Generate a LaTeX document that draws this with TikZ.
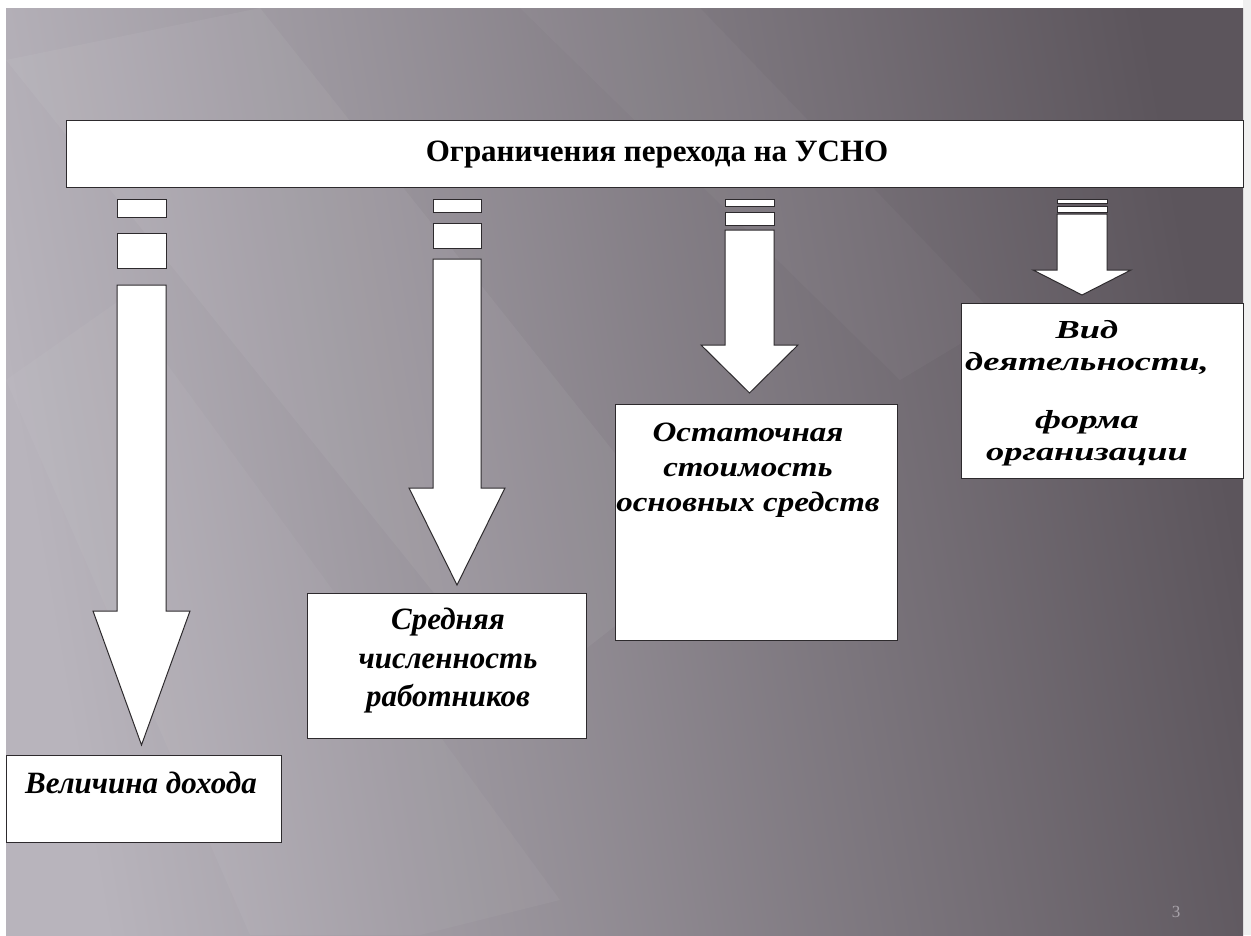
\documentclass[tikz,border=0pt]{standalone}
\usepackage{fontspec}
\setmainfont{Liberation Serif}
\newfontfamily\wideserif{Liberation Serif Bold Italic}[FakeStretch=1.18]
\newfontfamily\widerserif{Liberation Serif Bold Italic}[FakeStretch=1.4]
\usetikzlibrary{calc,positioning}

\definecolor{slideL}{RGB}{184,180,188}
\definecolor{slideM}{RGB}{126,119,127}
\definecolor{slideR}{RGB}{92,85,92}
\definecolor{edge}{RGB}{45,42,45}
\definecolor{pagenum}{RGB}{168,163,170}

\tikzset{
  box/.style={draw=edge, line width=1.1pt, fill=white, inner sep=0pt, anchor=north west},
  boxtext/.style={align=center, font=\fontsize{31}{38.5}\selectfont\bfseries\itshape},
  blk/.style={draw=edge, line width=1pt, fill=white, line join=miter},
}

% striped block arrow: x-left, x-right, stripe1 bottom, stripe2 top, stripe2 bottom, shaft top, head y, tip y
\newcommand{\stripedarrow}[8]{%
  \draw[blk] (#1,199) rectangle (#2,#3);
  \draw[blk] (#1,#4) rectangle (#2,#5);
  \draw[blk] (#1,#6) -- (#1,#7) -- ({#1-24},#7) -- ({(#1+#2)/2},#8)
    -- ({#2+24},#7) -- (#2,#7) -- (#2,#6) -- cycle;
}

\begin{document}
\begin{tikzpicture}[x=1pt, y=-1pt]

% ---------- SLIDE ----------
\fill[white] (0,0) rectangle (1251,935);
\fill[gray!12] (1243,0) rectangle (1251,935);
\useasboundingbox (0,0) rectangle (1251,935);
\shade[left color=slideL, middle color=slideM, right color=slideR, shading angle=100]
  (6,8) rectangle (1243,935);
% faint streaks
\fill[white, opacity=0.05] (6,60) -- (260,8) -- (700,560) -- (520,700) -- cycle;
\fill[white, opacity=0.04] (6,380) -- (120,300) -- (560,900) -- (420,935) -- (250,935) -- cycle;
\fill[white, opacity=0.03] (520,8) -- (700,8) -- (1000,320) -- (900,380) -- cycle;

% ---------- TITLE ----------
\node[draw=edge, line width=1.1pt, fill=white, minimum width=1177pt, minimum height=67pt,
  font=\fontsize{31}{36}\selectfont\bfseries, anchor=north west] (title) at (66,120)
  {\hspace*{4pt}Ограничения перехода на УСНО};

% ---------- ARROWS ----------
\stripedarrow{117}{166}{217}{233}{268}{285}{611}{745}
\stripedarrow{433}{481}{212}{223}{248}{259}{488}{585}
\stripedarrow{725}{774}{206}{212}{225}{230}{345}{393}
\stripedarrow{1057}{1107}{203}{206}{212}{214}{270}{295}

% ---------- BOXES ----------
\node[box, minimum width=275pt, minimum height=87pt] (income) at (6,755) {};
\node[boxtext] (incomeT) at (141,783) {Величина дохода};

\node[box, minimum width=279pt, minimum height=145pt] (staff) at (307,593) {};
\node[boxtext] (staffT) at (448,661)
  {Средняя\\численность\\работников};

\node[box, minimum width=282pt, minimum height=236pt] (assets) at (615,404) {};
\node[boxtext, font=\fontsize{28}{35}\selectfont\wideserif] (assetsT) at (748,470)
  {Остаточная\\стоимость\\основных средств};

\node[box, minimum width=282pt, minimum height=175pt] (activity) at (961,303) {};
\node[boxtext, font=\fontsize{26}{32}\selectfont\widerserif] (activityT) at (1087,393)
  {Вид\\деятельности,\\[26pt]форма\\организации};

% page number
\node[text=pagenum, font=\fontsize{17}{19}\selectfont] (pnum) at (1176,912) {3};

\end{tikzpicture}
\end{document}
